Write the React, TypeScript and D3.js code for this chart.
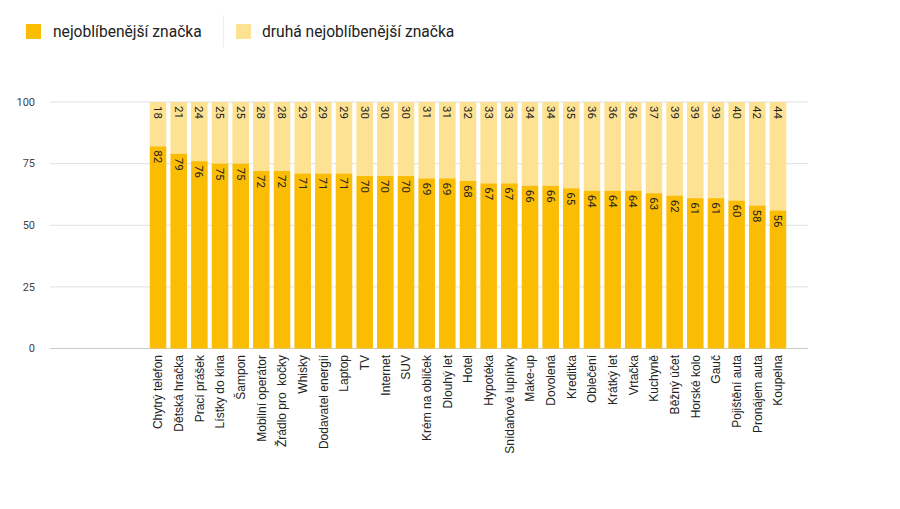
import React from "react";
import * as d3 from "d3";

const categories = [
  "Chytrý telefon", "Dětská hračka", "Prací prášek", "Lístky do kina", "Šampon",
  "Mobilní operátor", "Žrádlo pro  kočky", "Whisky", "Dodavatel energií", "Laptop",
  "TV", "Internet", "SUV", "Krém na obliček", "Dlouhý let", "Hotel", "Hypotéka",
  "Snídaňové lupínky", "Make-up", "Dovolená", "Kreditka", "Oblečení", "Krátký let",
  "Vrtačka", "Kuchyně", "Běžný účet", "Horské kolo", "Gauč", "Pojištění auta",
  "Pronájem auta", "Koupelna",
];
const favourite = [82, 79, 76, 75, 75, 72, 72, 71, 71, 71, 70, 70, 70, 69, 69, 68, 67, 67, 66, 66, 65, 64, 64, 64, 63, 62, 61, 61, 60, 58, 56];
const second = [18, 21, 24, 25, 25, 28, 28, 29, 29, 29, 30, 30, 30, 31, 31, 32, 33, 33, 34, 34, 35, 36, 36, 36, 37, 39, 39, 39, 40, 42, 44];
const seriesNames = ["nejoblíbenější značka", "druhá nejoblíbenější značka"];
const yTicks = [0, 25, 50, 75, 100];

const C1 = "#fbbc04";
const C2 = "#fde293";
const FONT = "Roboto, Arial, sans-serif";
const LFONT = "'Liberation Sans', Arial, sans-serif";

export default function App() {
  const W = 900, H = 509;
  const x = d3.scaleBand<string>().domain(categories).range([147.7, 788.3]).paddingInner(0.2).paddingOuter(0.1);
  const y = d3.scaleLinear().domain([0, 100]).range([348.5, 102]);
  const bw = x.bandwidth();
  return (
    <svg width={W} height={H} style={{ position: "absolute", left: 0, top: 0, background: "#fff" }} fontFamily={FONT}>
      {/* legend */}
      <rect x={26} y={24} width={15} height={15} fill={C1} />
      <text x={53} y={37} fontSize={15.6} fill="#222">{seriesNames[0]}</text>
      <line x1={223.5} x2={223.5} y1={15} y2={47} stroke="#eee" />
      <rect x={236} y={24} width={15} height={15} fill={C2} />
      <text x={262} y={37} fontSize={15.6} fill="#222">{seriesNames[1]}</text>

      {/* grid */}
      {yTicks.map((t) => (
        <g key={t}>
          <line x1={50} x2={808} y1={y(t)} y2={y(t)} stroke={t === 0 ? "#ccc" : "#e0e0e0"} />
          <text x={35} y={y(t)} dy="0.35em" textAnchor="end" fontSize={11} fill="#444">{t}</text>
        </g>
      ))}

      {/* bars */}
      {categories.map((c, i) => {
        const bx = x(c)!;
        const cx = bx + bw / 2;
        const v1 = favourite[i];
        const v2 = second[i];
        const top1 = y(v1);
        const top2 = y(Math.min(100, v1 + v2));
        return (
          <g key={c}>
            <rect x={bx} y={top2} width={bw} height={top1 - top2} fill={C2} />
            <rect x={bx} y={top1} width={bw} height={y(0) - top1} fill={C1} />
            <text transform={`translate(${cx},${top2 + 4}) rotate(90)`} dy="0.35em" fontSize={11.5} fill="#222" fontFamily={FONT}>{v2}</text>
            <text transform={`translate(${cx},${top1 + 4}) rotate(90)`} dy="0.35em" fontSize={11.5} fill="#222" fontFamily={FONT}>{v1}</text>
            <text transform={`translate(${cx},355) rotate(-90)`} dy="0.35em" textAnchor="end" fontSize={12} fill="#222" fontFamily={LFONT} style={{ whiteSpace: "pre" }}>{c}</text>
          </g>
        );
      })}
    </svg>
  );
}
